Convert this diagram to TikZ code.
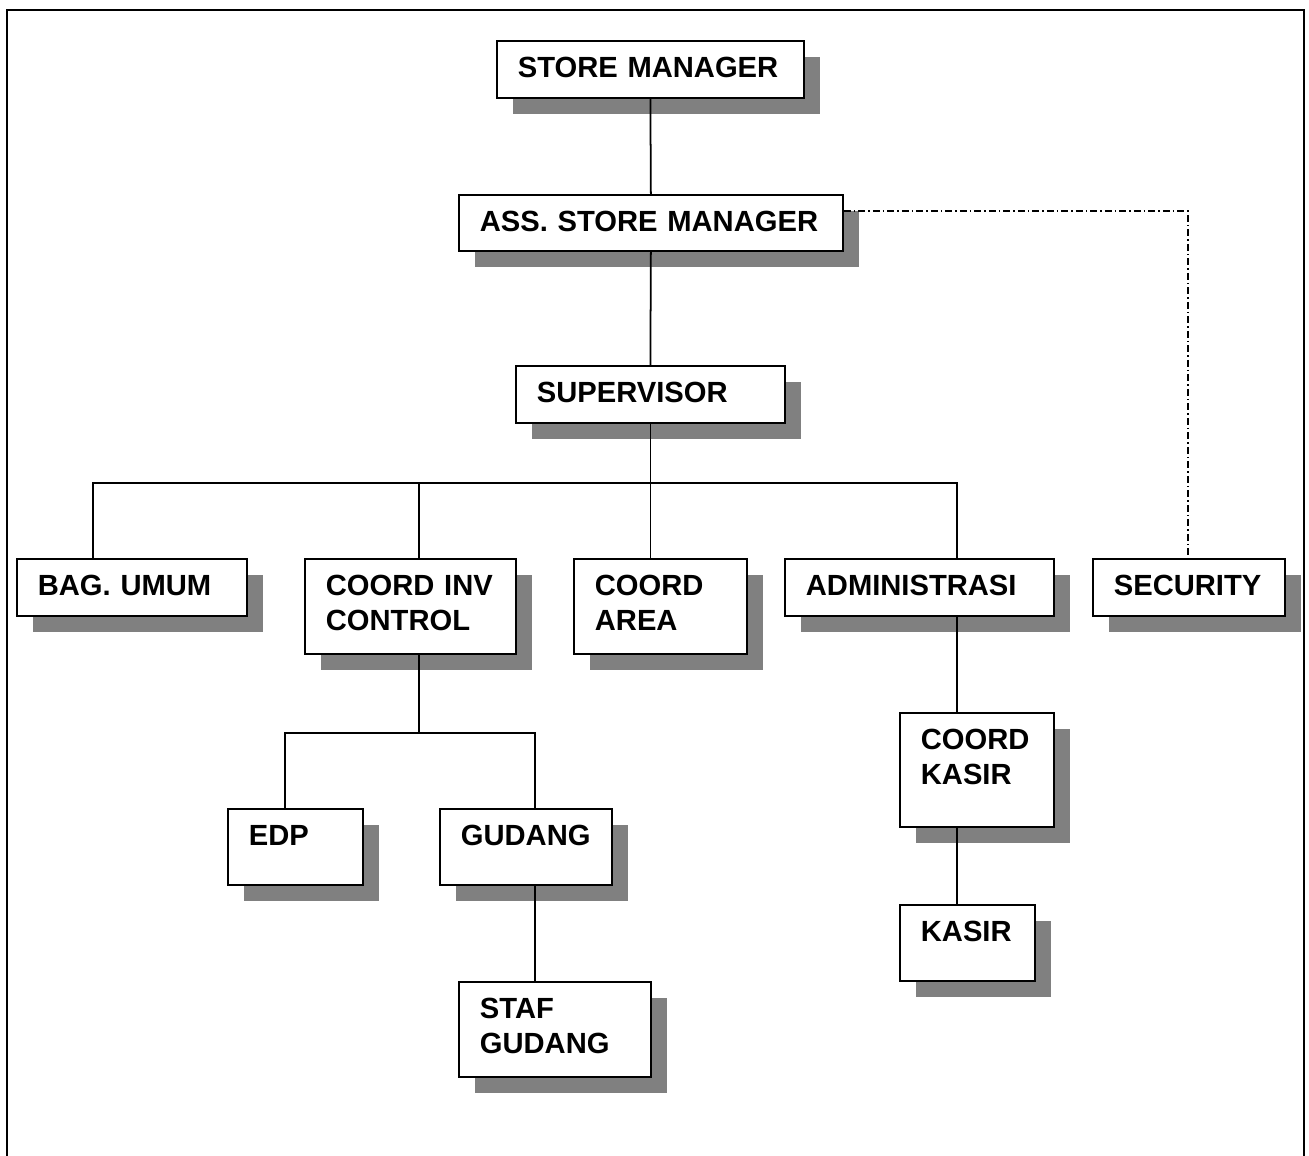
\documentclass[tikz,border=0pt]{standalone}
\usepackage{fontspec}
\setmainfont{Liberation Sans}
\usetikzlibrary{shadows}
\definecolor{shade}{HTML}{808080}
\tikzset{
  orgbox/.style 2 args={draw, line width=0.5pt, fill=white, anchor=north west,
    inner xsep=2.1mm, inner ysep=0pt, align=left,
    text width=#1-4.2mm, text height=3.7mm, text depth=#2-3.7mm,
    font=\fontsize{8.3}{9.8}\selectfont\bfseries,
    general shadow={fill=shade, shadow xshift=1.6mm, shadow yshift=-1.6mm}},
  link/.style={line width=0.5pt},
  dotlink/.style={line width=0.55pt, dash pattern=on 0.7mm off 0.3mm on 0.15mm off 0.3mm},
  frame/.style={line width=0.8pt},
}
\begin{document}
\begin{tikzpicture}[x=0.1mm, y=-0.1mm]
  \useasboundingbox (0,0) rectangle (1309,1155);
  \clip (0,0) rectangle (1309,1155);
  \draw[frame] (7,1170) -- (7,10) -- (1304,10) -- (1304,1170);
  % top of the tree
  \node[orgbox={30.7mm}{5.7mm}] (sm) at (496,40) {STORE MANAGER};
  \node[orgbox={38.4mm}{5.6mm}] (asm) at (458,194) {ASS. STORE MANAGER};
  \node[orgbox={26.9mm}{5.7mm}] (sup) at (515,365) {SUPERVISOR};
  % second row
  \node[orgbox={23.0mm}{5.7mm}] (bag) at (16,558) {BAG. UMUM};
  \node[orgbox={21.1mm}{9.5mm}] (inv) at (304,558) {COORD INV\\CONTROL};
  \node[orgbox={17.3mm}{9.5mm}] (area) at (573,558) {COORD\\AREA};
  \node[orgbox={26.9mm}{5.7mm}] (adm) at (784,558) {ADMINISTRASI};
  \node[orgbox={19.2mm}{5.7mm}] (sec) at (1092,558) {SECURITY};
  % lower rows
  \node[orgbox={13.5mm}{7.6mm}] (edp) at (227,808) {EDP};
  \node[orgbox={17.2mm}{7.6mm}] (gud) at (439,808) {GUDANG};
  \node[orgbox={19.2mm}{9.5mm}] (staf) at (458,981) {STAF\\GUDANG};
  \node[orgbox={15.4mm}{11.4mm}] (ckas) at (899,712) {COORD\\KASIR};
  \node[orgbox={13.5mm}{7.6mm}] (kas) at (899,904) {KASIR};
  % connectors
  \draw[link] (sm.south) -- (asm.north);
  \draw[link] (asm.south) -- (sup.north);
  \draw[link] (sup.south) -- ++(0,59) coordinate (bus);
  \draw[link] ([xshift=7.7mm]bag.north west) |- (bus) -| ([xshift=17.3mm]adm.north west);
  \draw[link] ([xshift=11.5mm]inv.north west) -- ([xshift=11.5mm]inv.north west |- bus);
  \draw[link] (bus) -- (area.north west -| bus);
  \draw[link] ([xshift=11.5mm]inv.south west) -- ++(0,78) coordinate (invbus);
  \draw[link] ([xshift=5.8mm]edp.north west) |- (invbus) -| ([xshift=9.6mm]gud.north west);
  \draw[link] ([xshift=9.6mm]gud.south west) -- ([xshift=7.7mm]staf.north west);
  \draw[link] ([xshift=17.3mm]adm.south west) -- ([xshift=5.8mm]ckas.north west);
  \draw[link] ([xshift=5.8mm]ckas.south west) -- ([xshift=5.8mm]kas.north west);
  \draw[dotlink] ([yshift=-1.7mm]asm.north east) -| ([xshift=9.6mm]sec.north west);
\end{tikzpicture}
\end{document}
